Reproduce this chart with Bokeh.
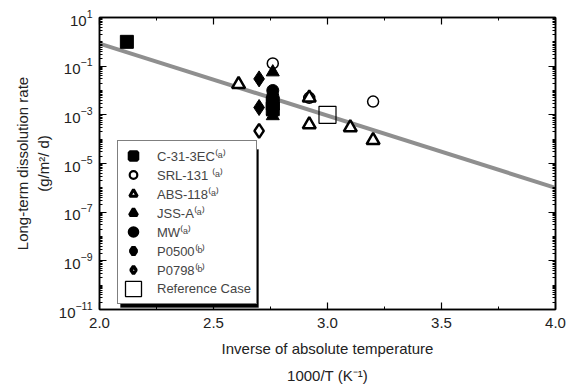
from bokeh.plotting import figure
from bokeh.models import (LogAxis, LinearAxis, FixedTicker, PrintfTickFormatter,
                          Legend, LegendItem, Title, BoxAnnotation)
from bokeh.embed import file_html
from bokeh.resources import INLINE

# ---- data ----
c31_x = [2.12, 2.76, 2.76]
c31_y = [1.0, 3.0e-3, 1.8e-3]
srl_x = [2.76, 3.20, 2.92]
srl_y = [0.13, 3.5e-3, 5.0e-3]
abs_x = [2.61, 2.92, 2.92, 3.10, 3.20]
abs_y = [0.018, 5.0e-3, 4.0e-4, 3.0e-4, 9.0e-5]
jss_x = [2.76, 2.76, 2.76, 2.76]
jss_y = [0.057, 2.3e-3, 1.3e-3, 9.0e-4]
mw_x = [2.76, 2.76, 2.76]
mw_y = [1.0e-2, 6.0e-3, 4.0e-3]
p0500_x = [2.70, 2.70]
p0500_y = [0.03, 2.0e-3]
p0798_x = [2.70]
p0798_y = [2.2e-4]
ref_x = [3.0]
ref_y = [1.0e-3]
fit_x = [2.0, 4.0]
fit_y = [0.85, 1.0e-6]

series_labels = ["C-31-3EC\u207d\u1d43\u207e", "SRL-131 \u207d\u1d43\u207e", "ABS-118\u207d\u1d43\u207e",
                 "JSS-A\u207d\u1d43\u207e", "MW\u207d\u1d43\u207e", "P0500\u207d\u1d47\u207e",
                 "P0798\u207d\u1d47\u207e", "Reference Case"]

x_ticks = [2.0, 2.5, 3.0, 3.5, 4.0]
x_minor = [2.25, 2.75, 3.25, 3.75]
y_ticks = [1e1, 1e-1, 1e-3, 1e-5, 1e-7, 1e-9, 1e-11]
y_minor = [m * 10.0 ** e for e in range(-11, 1) for m in range(1, 10)] + [10.0]

FONT = "Liberation Sans"
NAN = float("nan")

p = figure(width=580, height=388, output_backend="svg", toolbar_location=None,
           y_axis_type="log", x_range=(2.0, 4.0), y_range=(1e-11, 1e1),
           min_border_left=99, min_border_right=25, min_border_top=17,
           min_border_bottom=20, background_fill_color="white",
           border_fill_color="white", outline_line_color="black",
           outline_line_width=1.5)
p.grid.visible = False

# fit line
p.line(fit_x, fit_y, line_color="#8f8f8f", line_width=4)

p.scatter(c31_x, c31_y, marker="square", size=13, fill_color="black", line_color="black")
p.scatter(srl_x, srl_y, marker="circle", size=11, fill_color="white", fill_alpha=0,
          line_color="black", line_width=1.5)
p.scatter(abs_x, abs_y, marker="triangle", size=13, fill_color="white",
          line_color="black", line_width=2.5)
p.scatter(jss_x, jss_y, marker="triangle", size=13, fill_color="black", line_color="black")
p.scatter(mw_x, mw_y, marker="circle", size=12, fill_color="black", line_color="black")
p.scatter(p0500_x, p0500_y, marker="diamond", size=16, fill_color="black", line_color="black")
p.scatter(p0798_x, p0798_y, marker="diamond", size=14, fill_color="white",
          line_color="black", line_width=2.5)
p.scatter(ref_x, ref_y, marker="square", size=17, fill_color="white", fill_alpha=0,
          line_color="black", line_width=1.2)

# legend-only proxies (a NaN point, never drawn in the plot) for bolder legend symbols
def proxy(**kw):
    return p.scatter(x=[NAN], y=[NAN], line_color="black", **kw)

l_c31 = proxy(marker="square", fill_color="black", line_width=4)
l_srl = proxy(marker="circle", fill_color="white", line_width=2.2)
l_abs = proxy(marker="triangle", fill_color="white", line_width=3)
l_jss = proxy(marker="triangle", fill_color="black", line_width=3.5)
l_mw = proxy(marker="circle", fill_color="black", line_width=4)
l_p500 = proxy(marker="diamond", fill_color="black", line_width=4.5)
l_p798 = proxy(marker="diamond", fill_color="white", line_width=3.5)
l_ref = p.quad(left=[NAN], right=[NAN], top=[NAN], bottom=[NAN], fill_color="white",
               line_color="black", line_width=1.3)

# axes
def style(ax):
    ax.major_tick_in = 7
    ax.major_tick_out = 0
    ax.minor_tick_in = 3
    ax.minor_tick_out = 0
    ax.axis_line_color = "black"
    ax.axis_line_width = 1.5
    ax.major_tick_line_width = 1.2
    ax.major_label_text_font = FONT
    ax.major_label_text_font_size = "15px"
    ax.major_label_text_color = "#222222"
    ax.axis_label_text_font = FONT
    ax.axis_label_text_font_style = "normal"
    ax.axis_label_text_font_size = "15px"
    ax.axis_label_text_color = "#222222"

xa = p.xaxis[0]
xa.ticker = FixedTicker(ticks=x_ticks, minor_ticks=x_minor)
xa.formatter = PrintfTickFormatter(format="%.1f")
xa.axis_label = "Inverse of absolute temperature"
style(xa)
xa.major_label_standoff = 8
xa.axis_label_standoff = 9

ya = p.yaxis[0]
ya.ticker = FixedTicker(ticks=y_ticks, minor_ticks=y_minor)
ya.axis_label = "Long-term dissolution rate\n(g/m\u00b2/ d)"
style(ya)
ya.major_label_standoff = 7
ya.axis_label_standoff = 4

top = LinearAxis(ticker=FixedTicker(ticks=x_ticks, minor_ticks=x_minor))
style(top)
top.major_label_overrides = {t: "" for t in x_ticks}
top.major_label_standoff = 0
p.add_layout(top, "above")

right = LogAxis(ticker=FixedTicker(ticks=y_ticks, minor_ticks=y_minor))
style(right)
right.major_label_overrides = {t: "" for t in y_ticks}
right.major_label_standoff = 0
p.add_layout(right, "right")

sub = Title(text="1000/T (K\u207b\u00b9)", align="center", text_font=FONT,
            text_font_size="15px", text_font_style="normal", text_color="#222222")
p.add_layout(sub, "below")

# legend drop shadow
shadow = BoxAnnotation(left=21, right=159, bottom=2, top=160,
                       left_units="screen", right_units="screen",
                       bottom_units="screen", top_units="screen",
                       fill_color="black", fill_alpha=1, line_color="black")
p.add_layout(shadow)

legend = Legend(items=[LegendItem(label=lab, renderers=[r]) for lab, r in zip(
    series_labels, [l_c31, l_srl, l_abs, l_jss, l_mw, l_p500, l_p798, l_ref])],
    location=(18, 5))
legend.label_text_font = FONT
legend.label_text_font_size = "13px"
legend.label_height = 19
legend.glyph_height = 19
legend.glyph_width = 20
legend.spacing = 0
legend.padding = 5
legend.margin = 0
legend.label_standoff = 14
legend.border_line_color = "black"
legend.border_line_width = 1.5
legend.background_fill_color = "white"
legend.background_fill_alpha = 1
p.add_layout(legend, "center")

open("out.html", "w").write(file_html(p, INLINE))
